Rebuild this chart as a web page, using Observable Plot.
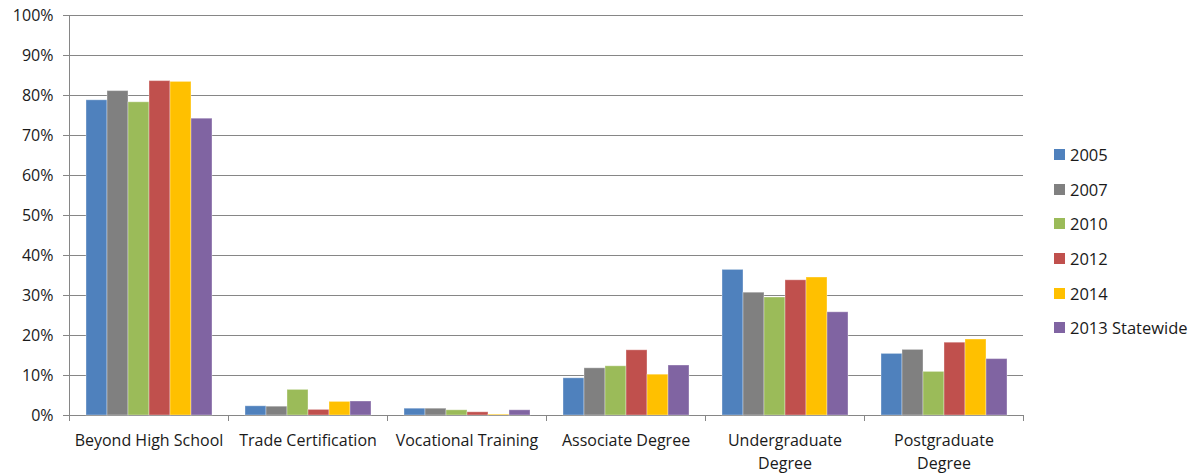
<!DOCTYPE html>
<html>
<head>
<meta charset="utf-8">
<script src="https://cdn.jsdelivr.net/npm/d3@7"></script>
<script src="https://cdn.jsdelivr.net/npm/@observablehq/plot@0.6"></script>
<style>
  html, body { margin: 0; padding: 0; background: #fff; }
  #wrap { position: relative; width: 1191px; height: 475px; font-family: "Open Sans", sans-serif; }
  #legend { position: absolute; left: 1054px; top: 137px; font-size: 16.5px; color: #1a1a1a; }
  #legend .row { display: flex; align-items: center; height: 34.7px; white-space: nowrap; }
  #legend .sw { width: 11px; height: 11px; margin-right: 5px; flex: none; }
  #chart svg g[aria-label="y-axis tick label"] text { font-size: 16px; }
  #chart svg g[aria-label="fx-axis tick label"] text { font-size: 16px; }
</style>
</head>
<body>
<div id="wrap"><div id="chart"></div><div id="legend"></div></div>
<script>
const categories = ["Beyond High School", "Trade Certification", "Vocational Training", "Associate Degree", "Undergraduate Degree", "Postgraduate Degree"];
const categoryLabels = ["Beyond High School", "Trade Certification", "Vocational Training", "Associate Degree", "Undergraduate\nDegree", "Postgraduate\nDegree"];
const series = ["2005", "2007", "2010", "2012", "2014", "2013 Statewide"];
const colors = ["#4F81BD", "#808080", "#9BBB59", "#C0504D", "#FFC000", "#8064A2"];
const yTicks = [0, 10, 20, 30, 40, 50, 60, 70, 80, 90, 100];

const v2005 = [78.8, 2.3, 1.7, 9.3, 36.4, 15.4];
const v2007 = [81.1, 2.2, 1.7, 11.8, 30.7, 16.4];
const v2010 = [78.3, 6.4, 1.3, 12.3, 29.5, 10.9];
const v2012 = [83.6, 1.4, 0.8, 16.3, 33.8, 18.2];
const v2014 = [83.4, 3.4, 0.2, 10.2, 34.5, 19.0];
const v2013sw = [74.2, 3.5, 1.3, 12.5, 25.8, 14.1];

const seriesValues = [v2005, v2007, v2010, v2012, v2014, v2013sw];
const data = [];
categories.forEach((c, i) => series.forEach((s, j) => data.push({category: c, series: s, value: seriesValues[j][i]})));

const W = 1191, H = 475, mL = 69, mR = 168, mT = 15, mB = 60;
const lineColor = "#868686";

const plot = Plot.plot({
  width: W, height: H,
  marginLeft: mL, marginRight: mR, marginTop: mT, marginBottom: mB,
  style: {fontFamily: "Open Sans, sans-serif", fontSize: "16px", color: "#1a1a1a", background: "transparent"},
  fx: {domain: categories, padding: 0, label: null},
  x: {domain: series, paddingInner: 0, paddingOuter: 0.75, axis: null},
  y: {domain: [0, 100], label: null},
  color: {domain: series, range: colors},
  marks: [
    Plot.gridY(yTicks, {stroke: lineColor, strokeOpacity: 1, strokeWidth: 1}),
    Plot.axisY(yTicks, {tickSize: 6, tickPadding: 10, stroke: lineColor, fontSize: 16, tickFormat: d => d + "%", label: null, fill: "#1a1a1a"}),
    Plot.axisFx({anchor: "bottom", tickSize: 0, tickPadding: 14, fontSize: 16, lineHeight: 1.45, tickFormat: d => categoryLabels[categories.indexOf(d)], label: null, fill: "#1a1a1a"}),
    Plot.barY(data, {fx: "category", x: "series", y: "value", fill: "series", stroke: "#ffffff", strokeOpacity: 0.35, strokeWidth: 1})
  ]
});

document.getElementById("chart").appendChild(plot);

// axis line and category boundary ticks, from the plot's own scales
const fxS = plot.scale("fx");
const yS = plot.scale("y");
const fxBand = d3.scaleBand().domain(fxS.domain).range(fxS.range).paddingInner(0).paddingOuter(0);
const yLin = d3.scaleLinear().domain(yS.domain).range(yS.range);
const svg = d3.select(plot.tagName.toLowerCase() === "svg" ? plot : plot.querySelector("svg"));
const g = svg.append("g").attr("stroke", lineColor).attr("stroke-width", 1).attr("fill", "none");
const x0 = Math.round(fxBand(categories[0])) + 0.5;
g.append("line").attr("x1", x0).attr("x2", x0).attr("y1", yLin(100)).attr("y2", yLin(0));
const bounds = categories.map(c => fxBand(c)).concat([fxBand(categories[categories.length - 1]) + fxBand.bandwidth()]);
bounds.forEach(b => {
  const xb = Math.round(b) + 0.5;
  g.append("line").attr("x1", xb).attr("x2", xb).attr("y1", yLin(0)).attr("y2", yLin(0) + 6);
});

// legend
const legend = document.getElementById("legend");
series.forEach((s, i) => {
  const row = document.createElement("div");
  row.className = "row";
  const sw = document.createElement("span");
  sw.className = "sw";
  sw.style.background = colors[i];
  const t = document.createElement("span");
  t.textContent = s;
  row.appendChild(sw); row.appendChild(t);
  legend.appendChild(row);
});
</script>
</body>
</html>
